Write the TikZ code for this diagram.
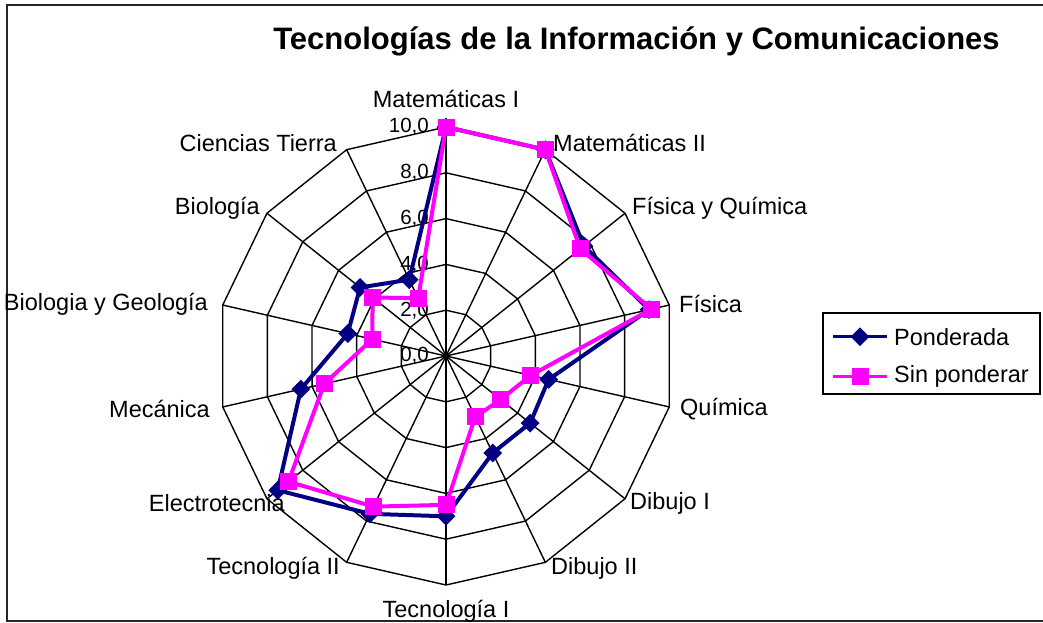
\documentclass[tikz,border=0pt]{standalone}
\usepackage{fontspec}
\setmainfont{Liberation Sans}
\usetikzlibrary{shapes.geometric}
\definecolor{pondblue}{RGB}{0,0,128}
\definecolor{sinpink}{RGB}{255,0,255}

\begin{document}
\begin{tikzpicture}[x=1pt, y=1pt,
	gridline/.style={line width=1.4pt, black},
	lbl/.style={inner sep=0pt, font=\fontsize{23.5}{26}\selectfont},
	ticklbl/.style={inner sep=0pt, font=\fontsize{20.5}{24}\selectfont},
	pondline/.style={line width=4pt, pondblue, line join=round},
	sinline/.style={line width=4pt, sinpink, line join=round},
	pondmark/.style={diamond, fill=pondblue, inner sep=0pt, minimum width=19pt, minimum height=19pt},
	sinmark/.style={rectangle, fill=sinpink, inner sep=0pt, minimum size=17pt}]

	\useasboundingbox (-446,-266) rectangle (597,356);
	\draw[line width=2pt, black!85] (-438.5,350.5) rectangle (610,-264.5);

	% title
	\node[inner sep=0pt, font=\fontsize{31}{35}\selectfont\bfseries] (title) at (190.5,315) {Tecnologías de la Información y Comunicaciones};

	% grid: spokes and rings
	\coordinate (ctr) at (0,0);
	\foreach \k in {0,...,13}{
		\coordinate (v\k) at ({90-\k*360/14}:229);
		\draw[gridline] (ctr) -- (v\k);
	}
	\foreach \r in {2,4,6,8,10}{
		\draw[gridline] (90:\r*22.9) \foreach \k in {1,...,13}{ -- ({90-\k*360/14}:\r*22.9)} -- cycle;
	}

	% scale
	\foreach \r in {0,2,4,6,8,10}
		\node[ticklbl, anchor=east] (tick\r) at (-17,\r*22.9) {\r,0};

	% axis labels
	\node[lbl] (mat1) at (0,257) {Matemáticas I};
	\node[lbl, anchor=west] (mat2) at (107,213) {Matemáticas II};
	\node[lbl, anchor=west] (fyq) at (186,148) {Física y Química};
	\node[lbl, anchor=west] (fis) at (233,52) {Física};
	\node[lbl, anchor=west] (qui) at (234,-53) {Química};
	\node[lbl, anchor=west] (dib1) at (184,-147) {Dibujo I};
	\node[lbl, anchor=west] (dib2) at (105,-212) {Dibujo II};
	\node[lbl] (tec1) at (0,-255) {Tecnología I};
	\node[lbl, anchor=east] (tec2) at (-106,-212) {Tecnología II};
	\node[lbl, anchor=east] (elec) at (-161,-147) {Electrotecnia};
	\node[lbl, anchor=east] (mec) at (-236,-53) {Mecánica};
	\node[lbl, anchor=east] (byg) at (-238,52) {Biologia y Geología};
	\node[lbl, anchor=east] (bio) at (-186,148) {Biología};
	\node[lbl, anchor=east] (ctie) at (-109,213) {Ciencias Tierra};

	% data
	\foreach \v [count=\i from 0] in {10,10,7.7,9.1,4.6,4.7,4.7,7.0,7.65,9.4,6.5,4.4,4.8,3.7}
		\coordinate (p\i) at ({90-\i*360/14}:\v*22.9);
	\foreach \v [count=\i from 0] in {10,10,7.5,9.2,3.8,3.05,2.95,6.5,7.3,8.8,5.45,3.3,4.1,2.8}
		\coordinate (q\i) at ({90-\i*360/14}:\v*22.9);

	\draw[pondline] (p0) \foreach \i in {1,...,13}{ -- (p\i)} -- cycle;
	\foreach \i in {0,...,13}
		\node[pondmark] (pm\i) at (p\i) {};
	\draw[sinline] (q0) \foreach \i in {1,...,13}{ -- (q\i)} -- cycle;
	\foreach \i in {0,...,13}
		\node[sinmark] (qm\i) at (q\i) {};

	% legend
	\node[draw, line width=1.5pt, inner sep=0pt, minimum width=217pt, minimum height=81pt] (legbox) at (485.5,2.6) {};
	\coordinate (la1) at (387,19.3);
	\coordinate (lb1) at (441,19.3);
	\coordinate (la2) at (387,-20.7);
	\coordinate (lb2) at (441,-20.7);
	\draw[pondline, line width=3pt] (la1) -- (lb1);
	\node[pondmark] (lm1) at (414,19.3) {};
	\node[lbl, anchor=west] (leg1) at (448,19.3) {Ponderada};
	\draw[sinline, line width=3pt] (la2) -- (lb2);
	\node[sinmark] (lm2) at (414,-20.7) {};
	\node[lbl, anchor=west] (leg2) at (448,-20.7) {Sin ponderar};
\end{tikzpicture}
\end{document}
